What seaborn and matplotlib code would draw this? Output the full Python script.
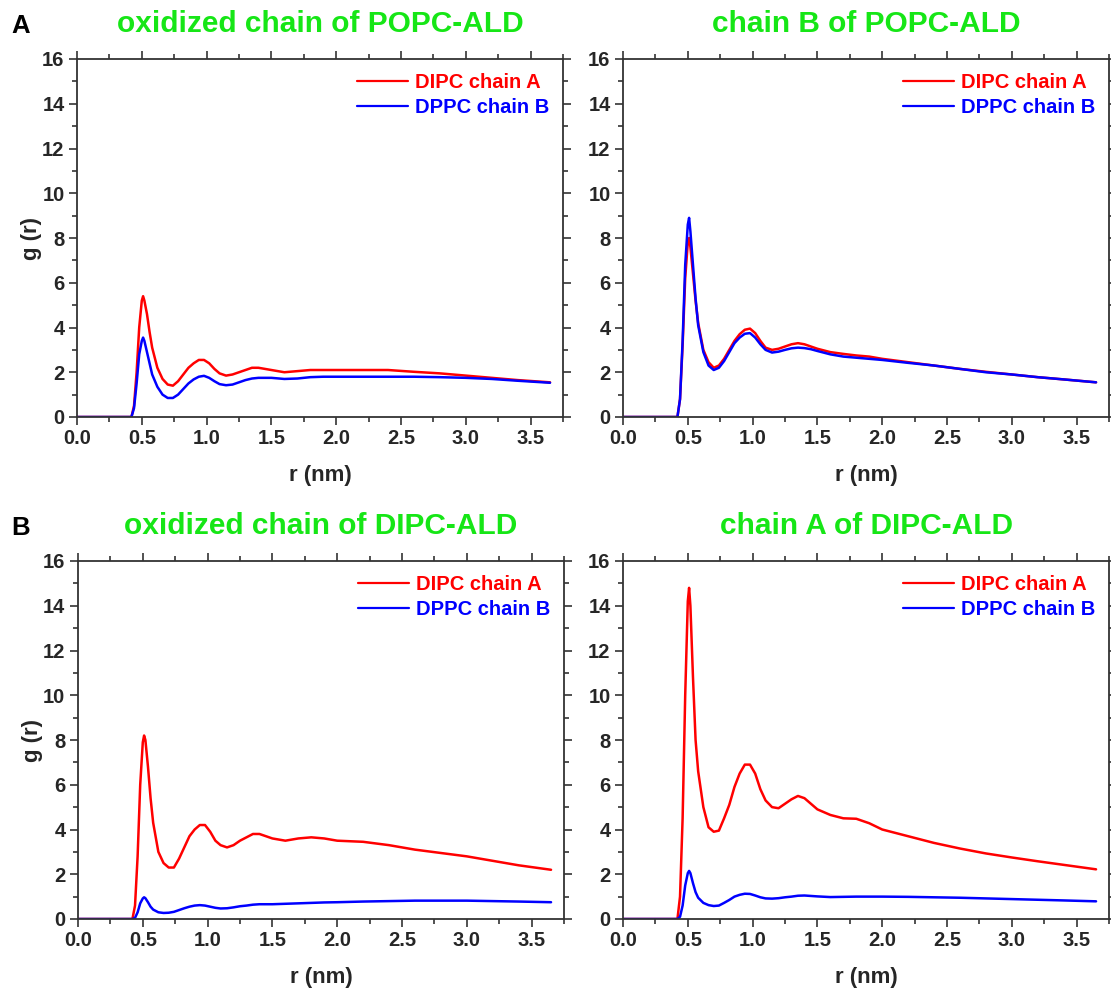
import matplotlib
matplotlib.use("Agg")
import matplotlib.pyplot as plt
from matplotlib.ticker import MultipleLocator, FormatStrFormatter
import seaborn as sns
import pandas as pd

sns.set_style("ticks")
plt.rcParams['font.family'] = ['Liberation Sans', 'DejaVu Sans']
plt.rcParams['font.weight'] = 'bold'

# ---------------- data ----------------
r_nm = [0.00, 0.42, 0.44, 0.46, 0.48, 0.50, 0.51, 0.52, 0.54, 0.56, 0.58, 0.62, 0.66, 0.70,
        0.74, 0.78, 0.82, 0.86, 0.90, 0.94, 0.98, 1.02, 1.06, 1.10, 1.15, 1.20, 1.25, 1.30,
        1.35, 1.40, 1.45, 1.50, 1.60, 1.70, 1.80, 1.90, 2.00, 2.20, 2.40, 2.60, 2.80, 3.00,
        3.20, 3.40, 3.65]

titles = ["oxidized chain of POPC-ALD", "chain B of POPC-ALD",
          "oxidized chain of DIPC-ALD", "chain A of DIPC-ALD"]
series_labels = ["DIPC chain A", "DPPC chain B"]

popc_ox_dipc_a = [0, 0, 0.5, 2.0, 4.0, 5.2, 5.4, 5.2, 4.6, 3.8, 3.1, 2.2, 1.7, 1.45, 1.4, 1.6,
                  1.9, 2.2, 2.4, 2.55, 2.55, 2.4, 2.15, 1.95, 1.85, 1.9, 2.0, 2.1, 2.2, 2.2,
                  2.15, 2.1, 2.0, 2.05, 2.1, 2.1, 2.1, 2.1, 2.1, 2.02, 1.95, 1.85, 1.75, 1.65, 1.55]
popc_ox_dppc_b = [0, 0, 0.4, 1.5, 2.8, 3.4, 3.55, 3.4, 2.9, 2.4, 1.9, 1.35, 1.0, 0.85, 0.85, 1.0,
                  1.25, 1.5, 1.68, 1.8, 1.84, 1.75, 1.6, 1.47, 1.42, 1.45, 1.55, 1.65, 1.72, 1.75,
                  1.75, 1.75, 1.7, 1.72, 1.78, 1.8, 1.8, 1.8, 1.8, 1.8, 1.78, 1.75, 1.7, 1.62, 1.53]

popc_b_dipc_a = [0, 0, 0.8, 3.2, 6.2, 7.8, 8.0, 7.6, 6.4, 5.2, 4.2, 3.0, 2.45, 2.2, 2.3, 2.6,
                 3.0, 3.4, 3.7, 3.9, 3.95, 3.75, 3.4, 3.1, 3.0, 3.05, 3.15, 3.25, 3.3, 3.25,
                 3.15, 3.05, 2.9, 2.82, 2.75, 2.7, 2.6, 2.45, 2.3, 2.15, 2.02, 1.9, 1.78, 1.68, 1.55]
popc_b_dppc_b = [0, 0, 0.8, 3.4, 6.8, 8.6, 8.9, 8.3, 6.8, 5.3, 4.1, 2.9, 2.3, 2.1, 2.2, 2.5,
                 2.9, 3.3, 3.55, 3.72, 3.75, 3.55, 3.25, 3.0, 2.88, 2.92, 3.0, 3.07, 3.1, 3.08,
                 3.03, 2.95, 2.8, 2.7, 2.65, 2.6, 2.55, 2.42, 2.3, 2.15, 2.0, 1.9, 1.78, 1.68, 1.55]

dipc_ox_dipc_a = [0, 0, 0.6, 2.8, 6.0, 7.9, 8.2, 8.0, 6.8, 5.4, 4.3, 3.0, 2.5, 2.3, 2.3, 2.7,
                  3.2, 3.7, 4.0, 4.2, 4.2, 3.9, 3.5, 3.3, 3.2, 3.3, 3.5, 3.65, 3.8, 3.8,
                  3.7, 3.6, 3.5, 3.6, 3.65, 3.6, 3.5, 3.45, 3.3, 3.1, 2.95, 2.8, 2.6, 2.4, 2.2]
dipc_ox_dppc_b = [0, 0, 0.05, 0.3, 0.7, 0.92, 0.97, 0.93, 0.75, 0.55, 0.42, 0.3, 0.27, 0.28,
                  0.32, 0.4, 0.48, 0.55, 0.6, 0.62, 0.6, 0.55, 0.5, 0.47, 0.48, 0.52, 0.57, 0.6,
                  0.64, 0.66, 0.66, 0.66, 0.68, 0.7, 0.72, 0.74, 0.75, 0.78, 0.8, 0.82, 0.82,
                  0.82, 0.8, 0.78, 0.75]

dipc_a_dipc_a = [0, 0, 1.0, 4.5, 10.0, 14.2, 14.8, 14.0, 10.8, 8.0, 6.6, 5.0, 4.1, 3.9, 3.95,
                 4.5, 5.1, 5.9, 6.5, 6.9, 6.9, 6.5, 5.8, 5.3, 5.0, 4.95, 5.15, 5.35, 5.5, 5.4,
                 5.15, 4.9, 4.65, 4.5, 4.48, 4.28, 4.0, 3.7, 3.4, 3.15, 2.93, 2.75, 2.58, 2.42, 2.22]
dipc_a_dppc_b = [0, 0, 0.1, 0.6, 1.5, 2.05, 2.15, 2.05, 1.6, 1.2, 0.95, 0.72, 0.62, 0.58, 0.6,
                 0.72, 0.85, 1.0, 1.08, 1.13, 1.12, 1.05, 0.97, 0.92, 0.91, 0.93, 0.97, 1.0,
                 1.04, 1.05, 1.03, 1.01, 0.98, 0.99, 1.0, 1.0, 1.0, 0.99, 0.97, 0.95, 0.92,
                 0.89, 0.86, 0.83, 0.79]

panel_data = [(popc_ox_dipc_a, popc_ox_dppc_b), (popc_b_dipc_a, popc_b_dppc_b),
              (dipc_ox_dipc_a, dipc_ox_dppc_b), (dipc_a_dipc_a, dipc_a_dppc_b)]

# ---------------- figure ----------------
W, H = 1111, 989
fig = plt.figure(figsize=(W / 100, H / 100), dpi=100)
fig.patch.set_facecolor("white")

# axes boxes in pixels: left, top, right, bottom
boxes = [(77, 59, 563, 417), (623, 59, 1109, 417),
         (78, 561, 564, 919), (623, 561, 1109, 919)]

colors = ["#ff0000", "#0000ff"]
title_green = "#16e616"

for i, (box, title, (ya, yb)) in enumerate(zip(boxes, titles, panel_data)):
    l, t, rgt, b = box
    ax = fig.add_axes([l / W, (H - b) / H, (rgt - l) / W, (b - t) / H])
    df = pd.DataFrame({"r": r_nm * 2, "g": ya + yb,
                       "series": [series_labels[0]] * len(r_nm) + [series_labels[1]] * len(r_nm)})
    for lab, col in zip(series_labels, colors):
        sub = df[df["series"] == lab]
        sns.lineplot(data=sub, x="r", y="g", ax=ax, color=col, linewidth=1.8,
                     estimator=None, sort=False, label=lab)
    ax.set_xlim(0, 3.75)
    ax.set_ylim(0, 16)
    ax.xaxis.set_major_locator(MultipleLocator(0.5))
    ax.xaxis.set_minor_locator(MultipleLocator(0.25))
    ax.yaxis.set_major_locator(MultipleLocator(2))
    ax.yaxis.set_minor_locator(MultipleLocator(1))
    ax.xaxis.set_major_formatter(FormatStrFormatter("%.1f"))
    ax.tick_params(which="both", direction="out", top=True, right=True,
                   labeltop=False, labelright=False, color="#333333", width=1.2)
    ax.tick_params(which="major", length=6, labelsize=14.5, pad=3)
    ax.tick_params(which="minor", length=3.5)
    for lbl in ax.get_xticklabels() + ax.get_yticklabels():
        lbl.set_fontweight("bold")
    for sp in ax.spines.values():
        sp.set_visible(True)
        sp.set_color("#333333")
        sp.set_linewidth(1.3)
    ax.set_xlabel("r (nm)", fontsize=16, fontweight="bold", labelpad=12)
    if i % 2 == 0:
        ax.set_ylabel("g (r)", fontsize=16, fontweight="bold", labelpad=0)
    else:
        ax.set_ylabel("")
    ax.set_title(title, fontsize=21.5, fontweight="bold", color=title_green,
                 y=1.0 + 27 / (b - t), pad=0)
    leg = ax.legend(loc="upper right", frameon=False, fontsize=14.5, handlelength=2.5,
                    handletextpad=0.35, labelspacing=0.3, borderaxespad=0.3)
    for txt, col in zip(leg.get_texts(), colors):
        txt.set_color(col)
        txt.set_fontweight("bold")
    for hl in leg.get_lines():
        hl.set_linewidth(1.6)

fig.text(11 / W, 1 - 33 / H, "A", fontsize=18.5, fontweight="bold", color="black")
fig.text(11 / W, 1 - 535 / H, "B", fontsize=18.5, fontweight="bold", color="black")

fig.savefig("out.png", dpi=100, facecolor="white")
